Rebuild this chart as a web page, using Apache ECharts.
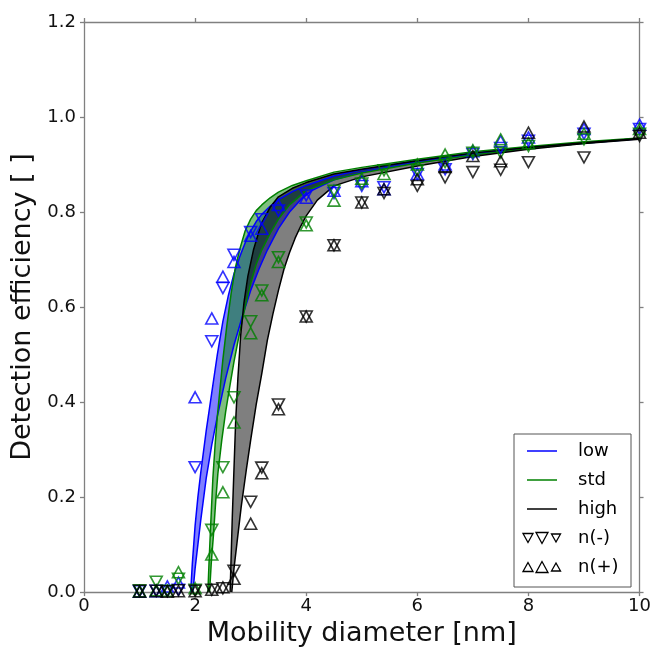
<!DOCTYPE html>
<html>
<head>
<meta charset="utf-8">
<script src="https://cdn.jsdelivr.net/npm/echarts@6/dist/echarts.min.js"></script>
<style>
  html, body { margin: 0; padding: 0; background: #fff; }
  #chart { width: 654px; height: 652px; }
</style>
</head>
<body>
<div id="chart"></div>
<script>
// Mobility diameters [nm] of the measured points
const diameters = [1.0, 1.3, 1.5, 1.7, 2.0, 2.3, 2.5, 2.7, 3.0, 3.2, 3.5, 4.0, 4.5, 5.0, 5.4, 6.0, 6.5, 7.0, 7.5, 8.0, 9.0, 10.0];

// Measured detection efficiencies, negative (n-) and positive (n+) polarity
const lowNeg  = [0.002, 0.003, 0.002, 0.005, 0.263, 0.528, 0.640, 0.710, 0.758, 0.785, 0.803, 0.835, 0.840, 0.855, 0.852, 0.880, 0.890, 0.922, 0.935, 0.950, 0.965, 0.975];
const lowPos  = [0.001, 0.002, 0.012, 0.020, 0.410, 0.576, 0.664, 0.695, 0.750, 0.765, 0.815, 0.830, 0.845, 0.865, 0.848, 0.880, 0.900, 0.928, 0.949, 0.957, 0.975, 0.984];
const stdNeg  = [0.004, 0.022, 0.003, 0.028, 0.005, 0.131, 0.263, 0.410, 0.570, 0.635, 0.705, 0.778, 0.845, 0.860, 0.888, 0.888, 0.905, 0.925, 0.925, 0.939, 0.953, 0.965];
const stdPos  = [0.002, 0.004, 0.003, 0.042, 0.008, 0.079, 0.210, 0.357, 0.545, 0.625, 0.695, 0.772, 0.824, 0.870, 0.880, 0.900, 0.921, 0.930, 0.953, 0.945, 0.965, 0.975];
const highNeg = [0.003, 0.003, 0.002, 0.004, 0.003, 0.005, 0.008, 0.045, 0.190, 0.262, 0.395, 0.580, 0.730, 0.820, 0.840, 0.855, 0.873, 0.884, 0.889, 0.905, 0.915, 0.960];
const highPos = [0.001, 0.002, 0.001, 0.002, 0.002, 0.005, 0.010, 0.028, 0.144, 0.250, 0.385, 0.580, 0.730, 0.820, 0.848, 0.869, 0.895, 0.918, 0.907, 0.967, 0.980, 0.967];

// Model curves: [diameter, efficiency], two bounds per condition
const lowA  = [[1.92,0],[1.95,0.06],[2.00,0.14],[2.05,0.20],[2.10,0.25],[2.20,0.34],[2.30,0.42],[2.40,0.50],[2.50,0.57],[2.60,0.625],[2.70,0.67],[2.80,0.705],[2.90,0.735],[3.00,0.76],[3.10,0.78],[3.20,0.795],[3.35,0.812],[3.50,0.826],[3.75,0.843],[4.00,0.856],[4.50,0.876],[5,0.889],[6,0.908],[7,0.924],[8,0.936],[9,0.946],[10,0.955]];
const lowB  = [[1.96,0],[2.00,0.05],[2.05,0.10],[2.10,0.15],[2.20,0.24],[2.30,0.31],[2.40,0.37],[2.55,0.45],[2.70,0.52],[2.85,0.58],[3.00,0.635],[3.15,0.68],[3.30,0.72],[3.50,0.765],[3.70,0.80],[3.90,0.826],[4.10,0.845],[4.50,0.868],[5,0.884],[6,0.905],[7,0.921],[8,0.934],[9,0.945],[10,0.954]];
const stdA  = [[2.23,0],[2.25,0.06],[2.28,0.14],[2.32,0.24],[2.36,0.31],[2.40,0.37],[2.45,0.43],[2.50,0.49],[2.57,0.56],[2.65,0.63],[2.72,0.68],[2.80,0.72],[2.90,0.76],[3.00,0.785],[3.10,0.803],[3.20,0.815],[3.35,0.83],[3.50,0.842],[3.75,0.856],[4.00,0.866],[4.50,0.884],[5,0.894],[6,0.911],[7,0.927],[8,0.938],[9,0.948],[10,0.956]];
const stdB  = [[2.26,0],[2.29,0.06],[2.33,0.12],[2.37,0.19],[2.41,0.25],[2.48,0.32],[2.55,0.38],[2.62,0.43],[2.70,0.485],[2.80,0.545],[2.90,0.60],[3.00,0.65],[3.10,0.69],[3.20,0.72],[3.35,0.755],[3.50,0.785],[3.70,0.815],[4.00,0.845],[4.50,0.868],[5,0.882],[6,0.903],[7,0.920],[8,0.934],[9,0.945],[10,0.955]];
const highA = [[2.63,0],[2.65,0.08],[2.67,0.16],[2.70,0.26],[2.73,0.36],[2.77,0.45],[2.82,0.54],[2.88,0.61],[2.95,0.665],[3.05,0.72],[3.19,0.775],[3.35,0.81],[3.50,0.832],[3.75,0.85],[4.00,0.862],[4.50,0.880],[5,0.890],[6,0.908],[7,0.924],[8,0.936],[9,0.946],[10,0.955]];
const highB = [[2.66,0],[2.70,0.05],[2.75,0.10],[2.83,0.18],[2.92,0.256],[3.00,0.32],[3.10,0.395],[3.20,0.46],[3.30,0.53],[3.40,0.585],[3.50,0.635],[3.60,0.68],[3.70,0.715],[3.80,0.745],[3.90,0.77],[4.00,0.792],[4.20,0.825],[4.50,0.855],[5,0.874],[6,0.897],[7,0.917],[8,0.932],[9,0.944],[10,0.953]];

// Axis ticks
const xTicks = [0, 2, 4, 6, 8, 10];
const yTicks = [0.0, 0.2, 0.4, 0.6, 0.8, 1.0, 1.2];

const BLUE = '#0000ff', GREEN = '#008000', BLACK = '#000000';
const FONT = 'DejaVu Sans';

// Shaded region between the two bounds of one condition
function band(lower, upper, fill) {
  return {
    type: 'custom',
    coordinateSystem: 'cartesian2d',
    data: [[0, 0]],
    silent: true,
    z: 1,
    renderItem: function (params, api) {
      const pts = lower.concat(upper.slice().reverse()).map(function (p) { return api.coord(p); });
      return { type: 'polygon', shape: { points: pts }, style: { fill: fill, stroke: 'none' } };
    }
  };
}

function curve(pts, color) {
  return {
    type: 'line', data: pts, showSymbol: false, silent: true, z: 3,
    lineStyle: { color: color, width: 1.5 }
  };
}

function markers(values, color, down) {
  return {
    type: 'scatter',
    data: diameters.map(function (d, i) { return [d, values[i]]; }),
    symbol: 'triangle',
    symbolSize: [12, 11],
    symbolRotate: down ? 180 : 0,
    silent: true,
    z: 5,
    itemStyle: { color: 'rgba(0,0,0,0)', borderColor: color, borderWidth: 1.6 }
  };
}

// Legend drawn as graphic elements
const legendItems = [
  { kind: 'line', color: BLUE, text: 'low' },
  { kind: 'line', color: GREEN, text: 'std' },
  { kind: 'line', color: BLACK, text: 'high' },
  { kind: 'down', color: BLACK, text: 'n(-)' },
  { kind: 'up', color: BLACK, text: 'n(+)' }
];

function triangle(cx, cy, w, h, down) {
  const t = down ? cy + h / 2 : cy - h / 2;
  const b = down ? cy - h / 2 : cy + h / 2;
  return [[cx, t], [cx - w / 2, b], [cx + w / 2, b]];
}

function legendGraphic() {
  const x0 = 514, y0 = 434, w = 117, h = 153;
  const els = [{
    type: 'rect', shape: { x: x0, y: y0, width: w, height: h },
    style: { fill: '#fff', stroke: '#555', lineWidth: 1 }, z: 100
  }];
  legendItems.forEach(function (it, i) {
    const cy = y0 + 17 + i * 29;
    if (it.kind === 'line') {
      els.push({ type: 'line', shape: { x1: 527, y1: cy, x2: 557, y2: cy },
        style: { stroke: it.color, lineWidth: 1.5 }, z: 101 });
    } else {
      const sizes = [[10, 9], [12, 11], [9, 8]];
      const xs = [528, 542, 556];
      xs.forEach(function (cx, k) {
        els.push({ type: 'polygon', shape: { points: triangle(cx, cy, sizes[k][0], sizes[k][1], it.kind === 'down') },
          style: { fill: 'none', stroke: it.color, lineWidth: 1.3 }, z: 101 });
      });
    }
    els.push({ type: 'text', x: 578, y: cy,
      style: { text: it.text, font: '18px "' + FONT + '"', fill: '#000', textVerticalAlign: 'middle' }, z: 101 });
  });
  return els;
}

const axisLineStyle = { color: '#808080', width: 1.3 };

const option = {
  backgroundColor: '#fff',
  animation: false,
  textStyle: { fontFamily: FONT },
  grid: { left: 84, right: 13, top: 22, bottom: 56, containLabel: false },
  xAxis: [{
    type: 'value', min: xTicks[0], max: xTicks[xTicks.length - 1], interval: 2,
    name: 'Mobility diameter [nm]', nameLocation: 'middle', nameGap: 24,
    nameTextStyle: { fontSize: 27, color: '#111', fontFamily: FONT },
    axisLine: { show: true, lineStyle: axisLineStyle },
    axisTick: { show: true, length: 4, inside: false, lineStyle: axisLineStyle },
    axisLabel: { fontSize: 18, color: '#111', margin: 5, fontFamily: FONT },
    splitLine: { show: false }
  }, {
    type: 'value', position: 'top', min: xTicks[0], max: xTicks[xTicks.length - 1], interval: 2,
    axisLine: { show: true, onZero: false, lineStyle: axisLineStyle },
    axisTick: { show: true, length: 4, lineStyle: axisLineStyle },
    axisLabel: { show: false }, splitLine: { show: false }
  }],
  yAxis: [{
    type: 'value', min: yTicks[0], max: yTicks[yTicks.length - 1], interval: 0.2,
    name: 'Detection efficiency [ ]', nameLocation: 'middle', nameGap: 35, nameRotate: 90,
    nameTextStyle: { fontSize: 27, color: '#111', fontFamily: FONT },
    axisLine: { show: true, lineStyle: axisLineStyle },
    axisTick: { show: true, length: 4, lineStyle: axisLineStyle },
    axisLabel: { fontSize: 18, color: '#111', margin: 8, fontFamily: FONT,
      formatter: function (v) { return v.toFixed(1); } },
    splitLine: { show: false }
  }, {
    type: 'value', position: 'right', min: yTicks[0], max: yTicks[yTicks.length - 1], interval: 0.2,
    axisLine: { show: true, onZero: false, lineStyle: axisLineStyle },
    axisTick: { show: true, length: 4, lineStyle: axisLineStyle },
    axisLabel: { show: false }, splitLine: { show: false }
  }],
  series: [
    band(lowA, lowB, 'rgba(0,0,255,0.5)'),
    band(stdA, stdB, 'rgba(0,128,0,0.5)'),
    band(highA, highB, 'rgba(0,0,0,0.5)'),
    curve(lowA, BLUE), curve(lowB, BLUE),
    curve(stdA, GREEN), curve(stdB, GREEN),
    curve(highA, BLACK), curve(highB, BLACK),
    markers(lowNeg, BLUE, true), markers(lowPos, BLUE, false),
    markers(stdNeg, GREEN, true), markers(stdPos, GREEN, false),
    markers(highNeg, BLACK, true), markers(highPos, BLACK, false)
  ],
  graphic: legendGraphic()
};

const chart = echarts.init(document.getElementById('chart'), null, { renderer: 'canvas' });
chart.setOption(option);
</script>
</body>
</html>
